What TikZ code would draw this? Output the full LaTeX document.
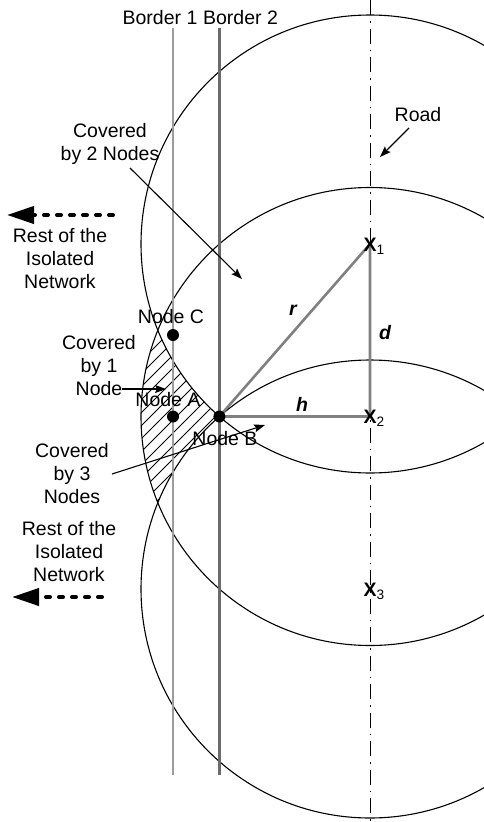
\documentclass[tikz,border=0pt]{standalone}
\usepackage{fontspec}
\setmainfont{Liberation Sans}
\usetikzlibrary{arrows.meta}
\definecolor{bordA}{HTML}{9C9C9C}
\definecolor{bordB}{HTML}{6B6B6B}
\definecolor{trig}{HTML}{808080}
\begin{document}
\begin{tikzpicture}[x=1pt,y=-1pt,
  lbl/.style={font=\fontsize{19.5}{23}\selectfont, inner sep=0pt, align=center},
  sym/.style={font=\fontsize{19.5}{23}\selectfont\bfseries\itshape, inner sep=0pt},
  xlab/.style={font=\fontsize{19.5}{23}\selectfont, inner sep=0pt, anchor=base west},
  circ/.style={draw=black, line width=1.1pt},
  borderA/.style={draw=bordA, line width=2.4pt},
  borderB/.style={draw=bordB, line width=2.4pt},
  trigline/.style={draw=trig, line width=2.6pt, line join=round},
  roadline/.style={draw=black, line width=1pt, dash pattern=on 15pt off 6pt on 1.5pt off 6pt},
  hatchline/.style={draw=black, line width=0.8pt},
  pointer/.style={draw=black, line width=1.1pt, -{Stealth[length=11pt,width=8pt,inset=2pt]}},
  bigarrow/.style={draw=black, line width=4pt, dash pattern=on 4pt off 9pt, line cap=round,
     -{Triangle[length=27pt,width=17pt,line cap=butt]}},
  dot/.style={circle, fill=black, inner sep=0pt, minimum size=12pt}
]
\useasboundingbox (0,0) rectangle (484,822);

% centres and key points
\coordinate (X1) at (370,244);
\coordinate (X2) at (370,416.5);
\coordinate (X3) at (370,589);
\coordinate (T) at (158,330.5);
\coordinate (U) at (157.8,503);
\coordinate (B) at (219.4,416.5);

% hatched region (covered by 1 node)
\begin{scope}
\clip (T) arc[start angle=202.2, end angle=157.9, radius=229]
          arc[start angle=202.06, end angle=228.88, radius=229]
          arc[start angle=131.12, end angle=157.8, radius=229] -- cycle;
\foreach \c in {450,463,...,760} \draw[hatchline] (\c-560,560) -- (\c-260,260);
\end{scope}

% circles
\begin{scope}
\clip (0,0) rectangle (484,822);
\draw[circ] (X1) circle[radius=229];
\draw[circ] (X2) circle[radius=229];
\draw[circ] (X3) circle[radius=229];
\end{scope}

% road
\coordinate (roadtop) at (370,0);
\coordinate (roadbot) at (370,822);
\draw[roadline] (roadtop) -- (roadbot);

% borders
\coordinate (b1t) at (173,28);
\coordinate (b1b) at (173,775);
\coordinate (b2t) at (219.4,28);
\coordinate (b2b) at (219.4,775);
\draw[borderA] (b1t) -- (b1b);
\draw[borderB] (b2t) -- (b2b);
\node[lbl] (bord1) at (160,18) {Border 1};
\node[lbl] (bord2) at (240.5,18) {Border 2};

% triangle
\coordinate (X2h) at (X1 |- B);
\draw[trigline] (B) -- (X1) -- (X2h) -- cycle;
\node[sym] (rlab) at (293,310) {r};
\node[sym] (hlab) at (302,404) {h};
\node[sym] (dlab) at (385,333) {d};

% centre labels
\node[xlab] (x1lab) at (363.5,251) {\textbf{X}\textsubscript{1}};
\node[xlab] (x2lab) at (363.5,423.5) {\textbf{X}\textsubscript{2}};
\node[xlab] (x3lab) at (363.5,596) {\textbf{X}\textsubscript{3}};

% nodes
\node[dot] (nodeC) at (173,335) {};
\node[dot] (nodeA) at (173,416.5) {};
\node[dot] (nodeB) at (B) {};
\node[lbl] (labC) at (171,317) {Node C};
\node[lbl] (labA) at (168,400) {Node A};
\node[lbl] (labB) at (225,439) {Node B};

% road label
\node[lbl] (road) at (418,115) {Road};
\coordinate (roadS) at (409,128);
\coordinate (roadE) at (380,157);
\draw[pointer] (roadS) -- (roadE);

% covered by 2
\node[lbl] (cov2) at (110,143.5) {Covered\\by 2 Nodes};
\coordinate (cov2S) at (130,168);
\coordinate (cov2E) at (242,279);
\draw[pointer] (cov2S) -- (cov2E);

% covered by 1
\node[lbl] (cov1) at (99,366) {Covered\\by 1\\Node};
\coordinate (cov1S) at (122,389);
\coordinate (cov1E) at (166,389);
\draw[pointer] (cov1S) -- (cov1E);

% covered by 3
\node[lbl] (cov3) at (72,474) {Covered\\by 3\\Nodes};
\coordinate (cov3S) at (112,474);
\coordinate (cov3E) at (265,425);
\draw[pointer] (cov3S) -- (cov3E);

% rest of network
\node[lbl] (rest1) at (60,259) {Rest of the\\Isolated\\Network};
\coordinate (r1S) at (113,215);
\coordinate (r1E) at (7,215);
\draw[bigarrow] (r1S) -- (r1E);
\node[lbl] (rest2) at (69,552) {Rest of the\\Isolated\\Network};
\coordinate (r2S) at (102,597);
\coordinate (r2E) at (12,597);
\draw[bigarrow] (r2S) -- (r2E);
\end{tikzpicture}
\end{document}
